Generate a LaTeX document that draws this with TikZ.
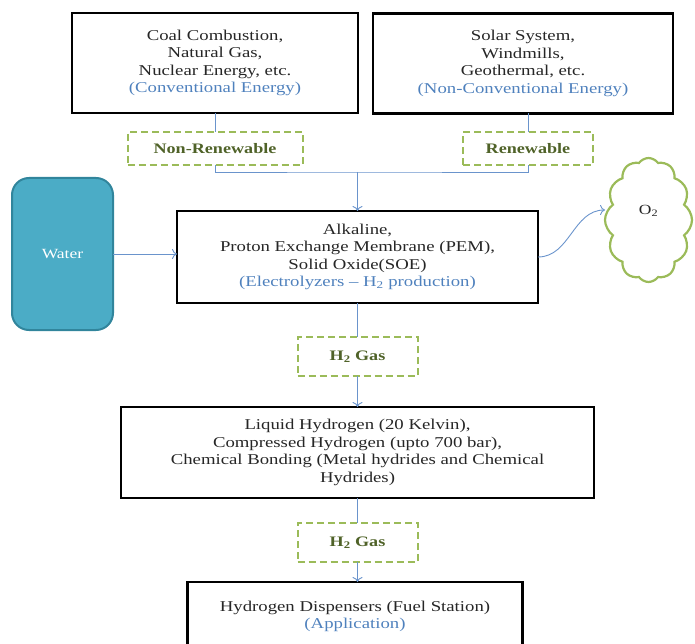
\documentclass[tikz,border=0pt]{standalone}
\usepackage{fontspec}
\setmainfont{Liberation Serif}[FakeStretch=1.25]
\usetikzlibrary{shapes.symbols, arrows.meta, positioning, calc}
\definecolor{lineblue}{HTML}{6A94CC}
\definecolor{textblue}{HTML}{4F81BD}
\definecolor{olive}{HTML}{9BBB59}
\definecolor{darkolive}{HTML}{4F6228}
\definecolor{aqua}{HTML}{4BACC6}
\definecolor{aquaedge}{HTML}{31859C}
\definecolor{ink}{HTML}{262626}
\newcommand{\kindtext}[1]{{\color{textblue}#1}}
\tikzset{
    stage/.style={
        rectangle,
        draw=black,
        line width=2.6pt,
        outer sep=0pt,
        align=center,
        text=ink,
        font=\fontsize{15}{17.5}\selectfont
    },
    carrier/.style={
        rectangle,
        draw=olive,
        line width=2pt,
        dash pattern=on 7pt off 4pt,
        outer sep=0pt,
        text=darkolive,
        font=\bfseries\fontsize{14.5}{17}\selectfont
    },
    source/.style={
        rectangle,
        rounded corners=17pt,
        draw=aquaedge,
        fill=aqua,
        line width=2pt,
        outer sep=0pt,
        text=white,
        font=\fontsize{14}{17}\selectfont
    },
    gas/.style={
        cloud,
        cloud puffs=12,
        cloud puff arc=110,
        aspect=0.7,
        draw=olive,
        line width=2.2pt,
        outer sep=0pt,
        text=ink,
        font=\fontsize{14}{17}\selectfont
    },
    link/.style={
        draw=lineblue,
        line width=0.9pt
    },
    arrow/.style={
        link,
        -{To[length=5pt, width=10pt]}
    },
}
\begin{document}
\begin{tikzpicture}[x=1pt, y=-1pt]
\useasboundingbox (0,0) rectangle (695,644);
\clip (0,0) rectangle (695,644);

% Conventional sources
\node[stage, minimum width=286pt, minimum height=100pt] (conv) at (215,63) {
    Coal Combustion,\\
    Natural Gas,\\
    Nuclear Energy, etc.\\
    \kindtext{(Conventional Energy)}
};

% Non-conventional sources
\node[stage, minimum width=300pt, minimum height=100pt] (nonconv) at (523,63.5) {
    Solar System,\\
    Windmills,\\
    Geothermal, etc.\\
    \kindtext{(Non-Conventional Energy)}
};

% Kinds of energy
\node[carrier, minimum width=175pt, minimum height=33pt, below=19pt of conv] (nonren) {Non-Renewable};
\node[carrier, minimum width=130pt, minimum height=33pt, below=19pt of nonconv, xshift=5pt] (ren) {Renewable};

% Electrolyzers
\node[stage, minimum width=361pt, minimum height=92pt] (elec) at (357.5,257) {
    Alkaline,\\
    Proton Exchange Membrane (PEM),\\
    Solid Oxide(SOE)\\
    \kindtext{(Electrolyzers -- H\textsubscript{2} production)}
};
\coordinate[above=39pt of elec] (join);

% Water and oxygen
\node[source, minimum width=101pt, minimum height=152pt] (water) at (62.5,254) {Water};
\node[gas, minimum width=87pt, minimum height=124pt, text depth=20pt] (oxy) at (648.5,220) {O\textsubscript{2}};

% Storage
\node[carrier, minimum width=120pt, minimum height=39pt, below=34pt of elec] (gasA) {H\textsubscript{2} Gas};
\node[stage, minimum width=473pt, minimum height=91pt, below=31pt of gasA] (store) {
    Liquid Hydrogen (20 Kelvin),\\
    Compressed Hydrogen (upto 700 bar),\\
    Chemical Bonding (Metal hydrides and Chemical\\
    Hydrides)
};

% Application
\node[carrier, minimum width=120pt, minimum height=39pt, below=25pt of store] (gasB) {H\textsubscript{2} Gas};
\node[stage, minimum width=335pt, minimum height=69pt, below=20pt of gasB, xshift=-2.5pt] (disp) {
    Hydrogen Dispensers (Fuel Station)\\
    \kindtext{(Application)}
};

% Connectors
\draw[link] (conv.south) -- (nonren.north);
\draw[link] (ren.north) -- (ren.north |- nonconv.south);
\draw[link] (nonren.south) |- (join) -| (ren.south);
\draw[arrow] (join) -- (elec.north);
\draw[arrow] (water.east) -- (water.east -| elec.west);
\draw[arrow] (elec.east) to[out=0, in=180] ([yshift=10pt]oxy.west);

\draw[link] (elec.south) -- (gasA.north);
\draw[arrow] (gasA.south) -- (gasA.south |- store.north);
\draw[link] (store.south) -- (store.south -| gasB.north) -- (gasB.north);
\draw[arrow] (gasB.south) -- (gasB.south |- disp.north);

\end{tikzpicture}
\end{document}
